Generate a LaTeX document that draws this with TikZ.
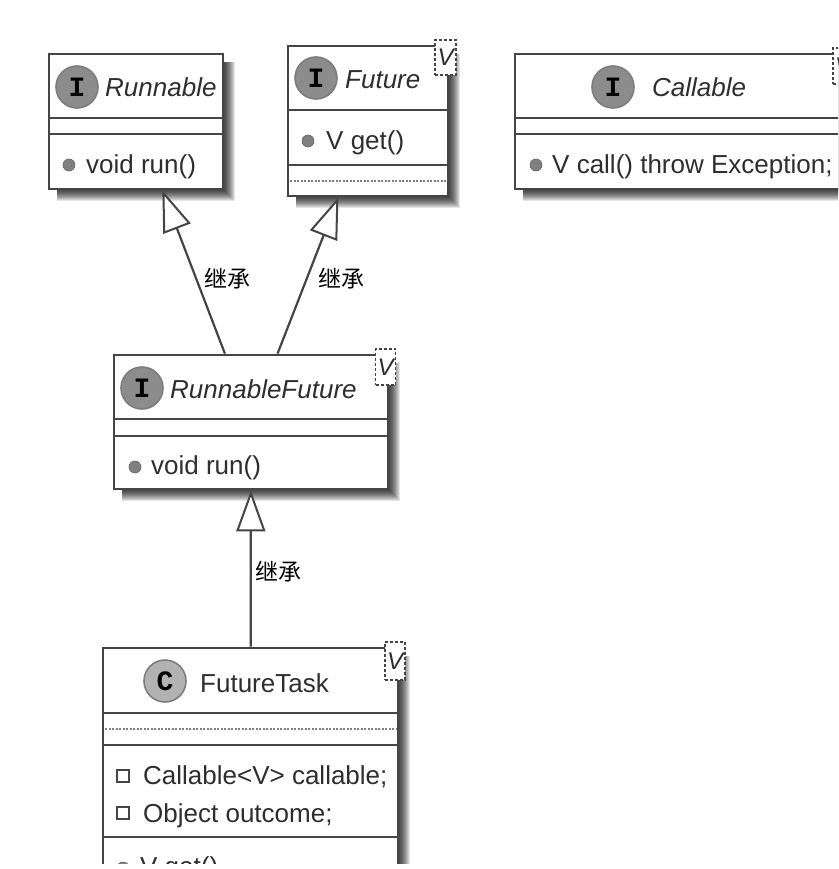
\documentclass[tikz,border=0pt]{standalone}
\usepackage{fontspec}
\setmainfont{Liberation Sans}
\newfontfamily\cjkfont{Noto Sans CJK SC}
\newfontfamily\badgefont{Liberation Mono}
\usetikzlibrary{arrows.meta}
\definecolor{umlline}{HTML}{454545}
\definecolor{umltext}{HTML}{2E2E2E}
\newcommand{\softshadow}[4]{%
  \foreach \s in {0,...,11} {
    \fill[black,opacity=0.10] (#1+8,#2+8) rectangle (#3+1+\s,#4+1+\s);
  }%
}

\begin{document}
\begin{tikzpicture}[x=1pt,y=-1pt,
    box/.style={draw=umlline,line width=2.8pt,fill=white,inner sep=0pt},
    rule/.style={draw=umlline,line width=2.6pt},
    thinrule/.style={draw=umlline,line width=1.6pt},
    dotrule/.style={draw=gray,line width=1.2pt,dash pattern=on 2pt off 1.5pt},
    badge/.style={circle,draw=umlline!70,line width=1.6pt,fill=#1,minimum size=42pt,inner sep=0pt,
        font=\badgefont\bfseries\fontsize{28}{28}\selectfont,text=black},
    badge/.default={gray!90},
    title/.style={anchor=base west,inner sep=0pt,text=umltext,font=\fontsize{26}{26}\selectfont},
    member/.style={anchor=base west,inner sep=0pt,text=umltext,font=\fontsize{26}{26}\selectfont},
    dot/.style={circle,fill=gray,draw=gray!80!black,line width=0.6pt,minimum size=12pt,inner sep=0pt},
    field/.style={rectangle,draw=umlline,line width=1.4pt,fill=white,minimum size=12pt,inner sep=0pt},
    tparam/.style={draw=umlline,line width=1.3pt,dash pattern=on 3pt off 2pt,fill=white,inner sep=0pt,
        text=umltext,font=\itshape\fontsize{24}{24}\selectfont},
    extends/.style={draw=umlline,line width=2.2pt,-{Triangle[open,fill=white,length=41pt,width=29pt,line width=2pt]}},
    edgelabel/.style={inner sep=0pt,text=black,font=\cjkfont\fontsize{23}{23}\selectfont}]
        \useasboundingbox (0,0) rectangle (838,869);
        \fill[white] (0,0) rectangle (838,869);
        \clip (0,0) rectangle (838,863);
        % shadows
        \softshadow{49}{54}{223}{189}
        \softshadow{288}{46}{448}{196}
        \softshadow{515}{54}{900}{189}
        \softshadow{114}{355}{388}{489}
        \softshadow{103}{648}{398}{900}
        % boxes
        \node[box,minimum width=174pt,minimum height=135pt] (runnable) at (136,121.5) {};
        \node[box,minimum width=160pt,minimum height=150pt] (future) at (368,121) {};
        \node[box,minimum width=385pt,minimum height=135pt] (callable) at (707.5,121.5) {};
        \node[box,minimum width=274pt,minimum height=134pt] (runnablefuture) at (251,422) {};
        \node[box,minimum width=295pt,minimum height=252pt] (futuretask) at (250.5,774) {};
        % compartments
        \draw[rule] (49,118) -- (223,118);
        \draw[rule] (49,134) -- (223,134);
        \draw[rule] (288,110) -- (448,110);
        \draw[thinrule] (288,165) -- (448,165);
        \draw[dotrule] (290,181) -- (446,181);
        \draw[rule] (515,118) -- (838,118);
        \draw[rule] (515,134) -- (838,134);
        \draw[rule] (114,419) -- (388,419);
        \draw[rule] (114,436) -- (388,436);
        \draw[rule] (103,713) -- (398,713);
        \draw[dotrule] (105,729) -- (396,729);
        \draw[rule] (103,745) -- (398,745);
        \draw[rule] (103,837) -- (398,837);
        % headers
        \node[badge] (runnableI) at (77,87) {I};
        \node[badge] (futureI) at (316,78) {I};
        \node[badge] (callableI) at (613,87) {I};
        \node[badge] (runnablefutureI) at (142,388) {I};
        \node[badge=gray!60] (futuretaskC) at (165,681) {C};
        \node[title] (runnableName) at (105,97) {\itshape Runnable};
        \node[title] (futureName) at (345,89) {\itshape Future};
        \node[title] (callableName) at (652,97) {\itshape Callable};
        \node[title] (runnablefutureName) at (170,398) {\itshape RunnableFuture};
        \node[title] (futuretaskName) at (200,692) {FutureTask};
        % type parameters
        \node[tparam,minimum width=21pt,minimum height=35pt] (futureV) at (445.5,57.5) {V};
        \node[tparam,minimum width=20pt,minimum height=36pt] (callableV) at (843,66) {V};
        \node[tparam,minimum width=20pt,minimum height=36pt] (runnablefutureV) at (385.5,367) {V};
        \node[tparam,minimum width=20pt,minimum height=38pt] (futuretaskV) at (395,661) {V};
        % members
        \node[dot] (runnableDot) at (69,165) {};
        \node[member] (runnableRun) at (86,173) {void run()};
        \node[dot] (futureDot) at (308,141) {};
        \node[member] (futureGet) at (326,150) {V get()};
        \node[dot] (callableDot) at (536,165) {};
        \node[member] (callableCall) at (552,173) {V call() throw Exception;};
        \node[dot] (runnablefutureDot) at (135,467) {};
        \node[member] (runnablefutureRun) at (151,474) {void run()};
        \node[field] (callableField) at (123,776) {};
        \node[member] (futuretaskCallable) at (143,784) {Callable<V> callable;};
        \node[field] (outcomeField) at (123,813) {};
        \node[member] (futuretaskOutcome) at (143,822) {Object outcome;};
        \node[dot] (getDot) at (123,868) {};
        \node[member] (futuretaskGet) at (140,875) {V get()};
        % inheritance
        \draw[extends] (runnablefuture) -- (runnable);
        \draw[extends] (runnablefuture) -- (future);
        \draw[extends] (futuretask) -- (runnablefuture);
        \node[edgelabel] (labelRunnable) at (227,279) {继承};
        \node[edgelabel] (labelFuture) at (341,279) {继承};
        \node[edgelabel] (labelTask) at (278,572) {继承};
\end{tikzpicture}
\end{document}
